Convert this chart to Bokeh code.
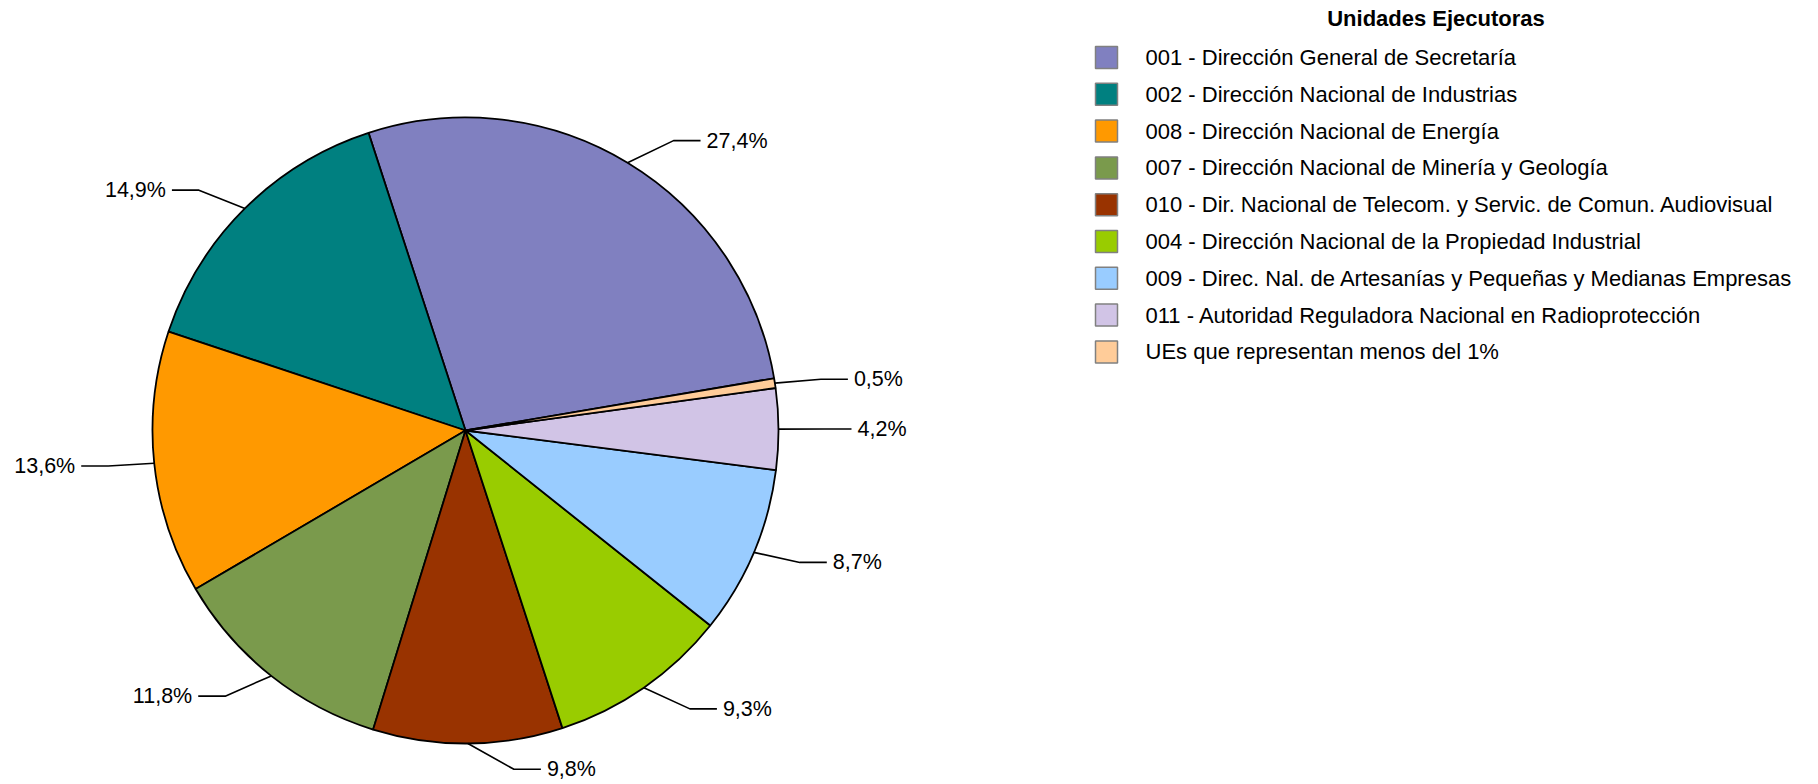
import math
from bokeh.plotting import figure
from bokeh.models import Range1d, ColumnDataSource
from bokeh.core.properties import value
from bokeh.embed import file_html
from bokeh.resources import INLINE

# ---- data ----
categories = [
    "001 - Dirección General de Secretaría",
    "002 - Dirección Nacional de Industrias",
    "008 - Dirección Nacional de Energía",
    "007 - Dirección Nacional de Minería y Geología",
    "010 - Dir. Nacional de Telecom. y Servic. de Comun. Audiovisual",
    "004 - Dirección Nacional de la Propiedad Industrial",
    "009 - Direc. Nal. de Artesanías y Pequeñas y Medianas Empresas",
    "011 - Autoridad Reguladora Nacional en Radioprotección",
    "UEs que representan menos del 1%",
]
percentages = [27.4, 14.9, 13.6, 11.8, 9.8, 9.3, 8.7, 4.2, 0.5]
colors = ["#8080C0", "#008080", "#FF9900", "#7A9A4C", "#993300",
          "#99CC00", "#99CCFF", "#D1C4E6", "#FFCC99"]
legend_title = "Unidades Ejecutoras"

# ---- layout (screen px; data y = 784 - screen y) ----
W, H = 1810, 784
FONT = value("Liberation Sans")
cx, cy = 465.0, 784 - 430.0
R = 313.0
start_deg = 9.6

p = figure(width=W, height=H, x_range=Range1d(0, W), y_range=Range1d(784 - H, 784),
           output_backend="svg", toolbar_location=None,
           x_axis_location=None, y_axis_location=None, min_border=0)
p.grid.visible = False
p.outline_line_color = None
p.background_fill_color = "white"
p.border_fill_color = "white"

total = sum(percentages)
starts, ends, mids = [], [], []
acc = 0.0
for v in percentages:
    a0 = math.radians(start_deg + acc / total * 360.0)
    acc += v
    a1 = math.radians(start_deg + acc / total * 360.0)
    starts.append(a0)
    ends.append(a1)
    mids.append((a0 + a1) / 2)

src = ColumnDataSource(dict(start=starts, end=ends, color=colors, cat=categories))
p.wedge(x=cx, y=cy, radius=R, start_angle="start", end_angle="end",
        fill_color="color", line_color="black", line_width=1.8, source=src)

# leader lines and labels
xs, ys, tx, ty, tt, ta = [], [], [], [], [], []
for v, m in zip(percentages, mids):
    c, s = math.cos(m), math.sin(m)
    sign = 1 if c >= 0 else -1
    ex, ey = cx + R * c, cy + R * s
    px, py = ex + sign * 46, ey + 25.8 * s
    hx = px + sign * 27
    xs.append([ex, px, hx])
    ys.append([ey, py, py])
    tx.append(hx + sign * 6)
    ty.append(py)
    tt.append(("%.1f" % v).replace(".", ",") + "%")
    ta.append("left" if sign > 0 else "right")

p.multi_line(xs=xs, ys=ys, line_color="black", line_width=1.6)
p.text(x=tx, y=ty, text=tt, text_align=ta, text_baseline="middle",
       text_font=FONT, text_font_size="21.5px", text_color="black")

# legend
lx_sq, lx_txt = 1106, 1145
row0, pitch = 57.0, 36.8
ly = [784 - (row0 + i * pitch) for i in range(len(categories))]
p.rect(x=[lx_sq] * len(categories), y=ly, width=22, height=22,
       fill_color=colors, line_color="#808080", line_width=1.5)
p.text(x=[lx_txt] * len(categories), y=ly, text=categories, text_align="left",
       text_baseline="middle", text_font=FONT, text_font_size="22px", text_color="black")
p.text(x=[1435.5], y=[784 - 18], text=[legend_title], text_align="center",
       text_baseline="middle", text_font=FONT, text_font_size="22px",
       text_font_style="bold", text_color="black")

open("out.html", "w").write(file_html(p, INLINE))
